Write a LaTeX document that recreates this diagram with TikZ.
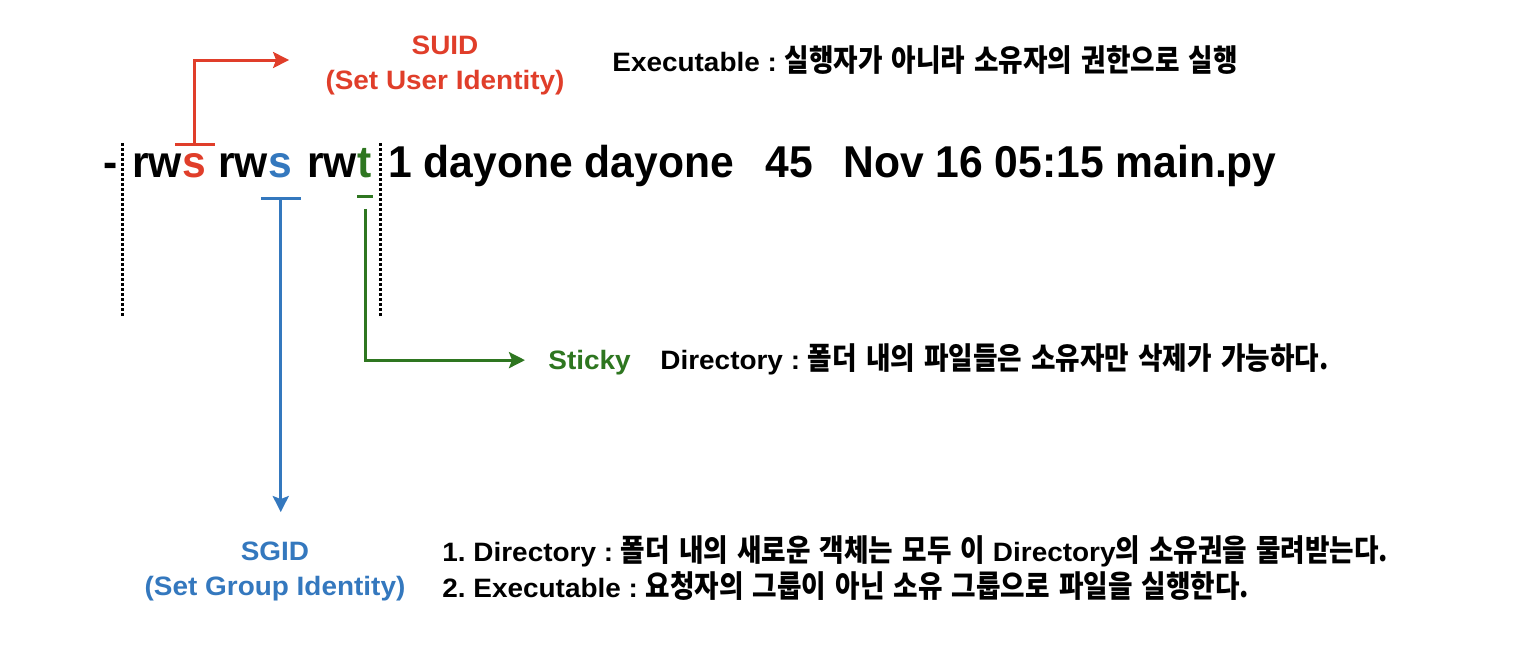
\documentclass[tikz,border=0pt]{standalone}
\usepackage{fontspec}
\setmainfont{Liberation Sans}
\newfontfamily\bigf{Liberation Sans}[FakeStretch=0.955]
\newfontfamily\lblf{Liberation Sans}[FakeStretch=1.05]
\newfontfamily\kr{Noto Sans CJK KR}[FakeStretch=0.87]
\usetikzlibrary{arrows.meta,calc}
\definecolor{cred}{RGB}{224,62,42}
\definecolor{cblue}{RGB}{52,120,190}
\definecolor{cgreen}{RGB}{46,118,32}
\newcommand\K[1]{{\kr\bfseries\fontsize{15.3}{18}\selectfont\spaceskip=0.3em plus 0.1em\relax #1}}
\frenchspacing
\begin{document}
\begin{tikzpicture}[x=0.5pt,y=-0.5pt,
  big/.style={font=\bigf\fontsize{22.3}{26}\selectfont\bfseries, inner sep=0pt, anchor=base west},
  lbl/.style={font=\lblf\fontsize{13.3}{17.5}\selectfont\bfseries\frenchspacing, inner sep=0pt},
  conn/.style={line width=1.5pt},
  tip/.style={-{Stealth[length=8pt,width=8pt,inset=1.5pt]}},
  bartip/.style={{Bar[width=20pt]}-{Stealth[length=8pt,width=8pt,inset=1.5pt]}},
  dots/.style={line width=1.5pt, dash pattern=on 1.5pt off 1pt}
]
\useasboundingbox (0,0) rectangle (1534,665);
% main line
\node[big] (dash) at (103,177) {-};
\node[big] (rw1) at (132,177) {rw};
\node[big,text=cred] (s1) at (rw1.base east) {s};
\node[big] (rw2) at (218,177) {rw};
\node[big,text=cblue] (s2) at (rw2.base east) {s};
\node[big] (rw3) at (307,177) {rw};
\node[big,text=cgreen] (t3) at (rw3.base east) {t};
\node[big] (rest) at (388,177) {1 dayone dayone};
\node[big] (n45) at (765,177) {45};
\node[big] (nov) at (843,177) {Nov 16 05:15 main.py};
% dotted separators
\draw[dots] (122,143) -- (122,318);
\draw[dots] (380,143) -- (380,318);
% labels
\node[lbl,text=cred,align=center] (suid) at (445,65) {SUID\\(Set User Identity)};
\node[lbl,anchor=base west] (exe) at (612,71) {Executable : \K{실행자가 아니라 소유자의 권한으로 실행}};
\node[lbl,text=cgreen,anchor=base west] (sticky) at (548,369) {Sticky};
\node[lbl,anchor=base west] (dir) at (660,369) {Directory : \K{폴더 내의 파일들은 소유자만 삭제가 가능하다.}};
\node[lbl,text=cblue,align=center] (sgid) at (275,571) {SGID\\(Set Group Identity)};
\node[lbl,anchor=base west] (sg1) at (442,561) {1. Directory : \K{폴더 내의 새로운 객체는 모두 이} Directory\K{의 소유권을 물려받는다.}};
\node[lbl,anchor=base west] (sg2) at (442,597) {2. Executable : \K{요청자의 그룹이 아닌 소유 그룹으로 파일을 실행한다.}};
% connectors
\draw[conn,cred,bartip,shorten >=18pt] ($(s1.north)+(0,-7)$) |- ($(suid.west)+(0,-5)$);
\draw[conn,cblue,bartip,shorten >=14.5pt] ($(s2.south)+(0,19)$) -- (s2.south |- sgid.north);
\draw[conn,cgreen] ($(t3.south)+(-8,19)$) -- ($(t3.south)+(8,19)$);
\draw[conn,cgreen,tip,shorten >=11.5pt] ($(t3.south)+(0,31)$) |- ($(sticky.west)+(0,-2)$);
\end{tikzpicture}
\end{document}
